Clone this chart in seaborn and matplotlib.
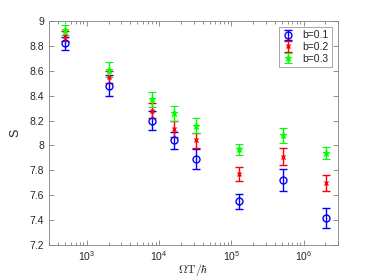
import matplotlib
matplotlib.use("Agg")
import matplotlib.pyplot as plt
import seaborn as sns
import pandas as pd

# data
omega_t = [500, 2000, 8000, 16000, 32000, 128000, 512000, 2048000]
labels = ["b=0.1", "b=0.2", "b=0.3"]
s_b01 = [8.82, 8.48, 8.20, 8.04, 7.89, 7.55, 7.72, 7.42]
e_b01 = [0.05, 0.085, 0.075, 0.07, 0.08, 0.06, 0.09, 0.08]
s_b02 = [8.88, 8.55, 8.28, 8.13, 8.04, 7.77, 7.91, 7.70]
e_b02 = [0.04, 0.05, 0.06, 0.065, 0.06, 0.055, 0.07, 0.065]
s_b03 = [8.93, 8.61, 8.37, 8.26, 8.16, 7.97, 8.08, 7.94]
e_b03 = [0.04, 0.06, 0.06, 0.06, 0.06, 0.045, 0.06, 0.045]

rows = []
for lab, s, e in zip(labels, [s_b01, s_b02, s_b03], [e_b01, e_b02, e_b03]):
    for x, v, err in zip(omega_t, s, e):
        rows.append({"x": x, "S": v, "err": err, "b": lab})
df = pd.DataFrame(rows)

sns.set_style("ticks")
plt.rcParams["font.family"] = ["Liberation Sans", "DejaVu Sans"]
plt.rcParams["mathtext.fontset"] = "cm"

fig = plt.figure(figsize=(3.74, 2.8), dpi=100)
ax = fig.add_axes([0.131, 0.125, 0.773, 0.80])

styles = {
    "b=0.1": dict(color="#0000ff", marker="o", ms=5, mfc="none", mew=1.0),
    "b=0.2": dict(color="#ff0000", marker="x", ms=3, mew=1.0),
    "b=0.3": dict(color="#00ff00", marker="*", ms=5, mew=0.8),
}
for lab in labels:
    d = df[df["b"] == lab]
    ax.errorbar(d["x"], d["S"], yerr=d["err"], ls="none", capsize=3,
                elinewidth=1.0, capthick=1.0, label=lab, **styles[lab])

ax.set_xscale("log")
ax.set_xlim(300, 3e6)
ax.set_ylim(7.2, 9)
ax.set_yticks([7.2, 7.4, 7.6, 7.8, 8, 8.2, 8.4, 8.6, 8.8, 9])
ax.set_yticklabels(["7.2", "7.4", "7.6", "7.8", "8", "8.2", "8.4", "8.6", "8.8", "9"])

grey = "#262626"
for sp in ax.spines.values():
    sp.set_visible(True)
    sp.set_color("#808080")
    sp.set_linewidth(0.6)
ax.tick_params(which="both", direction="in", top=True, right=True,
               colors="#808080", labelcolor=grey, labelsize=7.5, width=0.6)
ax.tick_params(which="major", length=3.5)
ax.tick_params(which="minor", length=2)
ax.tick_params(axis="x", pad=3)

ax.set_xlabel(r"$\Omega\mathrm{T}/\hbar$", fontsize=8.5, color=grey, labelpad=-1)
ax.set_ylabel("S", fontsize=9, color=grey, labelpad=6)

leg = ax.legend(loc="upper right", fontsize=7.5, frameon=True, fancybox=False,
                edgecolor="#808080", handlelength=1.2, handletextpad=0.8,
                borderpad=0.3, labelspacing=0.15, borderaxespad=0.6)
leg.get_frame().set_linewidth(0.6)

fig.savefig("out.png", dpi=100, facecolor="white")
